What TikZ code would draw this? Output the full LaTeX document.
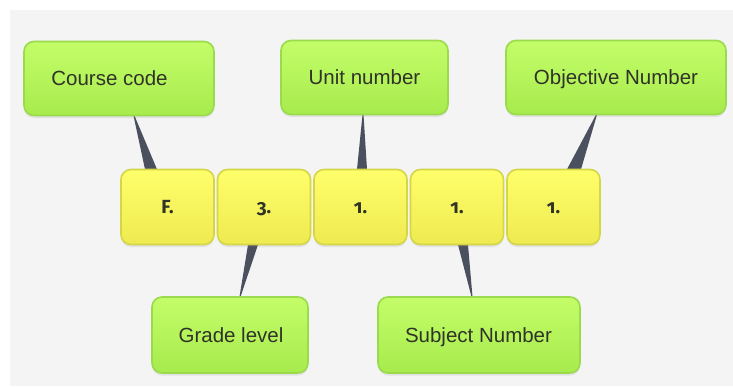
\documentclass[tikz,border=0pt]{standalone}
\usepackage{fontspec}
\setmainfont{Liberation Sans}
\newfontfamily\digitfont[Numbers=OldStyle]{Fira Sans}
\usetikzlibrary{calc,shadows}
\definecolor{bgpanel}{HTML}{F4F4F4}
\definecolor{greentop}{HTML}{C3FD69}
\definecolor{greenbot}{HTML}{A7EB4D}
\definecolor{greenedge}{HTML}{9BDA4C}
\definecolor{yellowtop}{HTML}{FFFF6B}
\definecolor{yellowbot}{HTML}{EEEA50}
\definecolor{yellowedge}{HTML}{D5D548}
\definecolor{wedgecol}{HTML}{4B505E}
\definecolor{labeltext}{HTML}{303328}
\tikzset{
  boxbase/.style={rounded corners=10pt, line width=1.6pt, inner sep=0pt,
    text=labeltext, align=center,
    drop shadow={opacity=0.15, shadow xshift=0pt, shadow yshift=-2.5pt}},
  labelbox/.style={boxbase, draw=greenedge, top color=greentop, bottom color=greenbot,
    minimum height=74pt},
  labelfont/.style={text=labeltext, inner sep=0pt, text height=14.5pt, text depth=4pt,
    font=\fontsize{20.5}{24}\selectfont},
  digitbox/.style={boxbase, draw=yellowedge, top color=yellowtop, bottom color=yellowbot,
    minimum width=93pt, minimum height=75pt, text height=13.5pt, text depth=0pt,
    font=\digitfont\bfseries\fontsize{19}{22}\selectfont},
  wedge/.style={fill=wedgecol}
}
\begin{document}
\begin{tikzpicture}[x=1pt,y=-1pt]
  % canvas and panel
  \useasboundingbox (0,0) rectangle (733,386);
  \fill[white] (0,0) rectangle (733,386);
  \fill[bgpanel] (10,10) rectangle (733,386);

  % box centres
  \path
    (119,78.5)   coordinate (pcc)
    (364.5,77.5) coordinate (pun)
    (616,77.5)   coordinate (pob)
    (167.5,207)  coordinate (pf)
    (264,207)    coordinate (pg)
    (360.5,207)  coordinate (pu)
    (457,207)    coordinate (ps)
    (553.5,207)  coordinate (po)
    (230,335)    coordinate (pgl)
    (479,335)    coordinate (psn);

  % invisible outlines giving the anchors for the wedges
  \begin{scope}[every node/.style={inner sep=0pt}]
    \node[minimum width=190pt, minimum height=74pt] (cc) at (pcc) {};
    \node[minimum width=167pt, minimum height=74pt] (un) at (pun) {};
    \node[minimum width=220pt, minimum height=74pt] (ob) at (pob) {};
    \node[minimum width=93pt, minimum height=75pt] (f1) at (pf) {};
    \node[minimum width=93pt, minimum height=75pt] (g3) at (pg) {};
    \node[minimum width=93pt, minimum height=75pt] (u1) at (pu) {};
    \node[minimum width=93pt, minimum height=75pt] (s1) at (ps) {};
    \node[minimum width=93pt, minimum height=75pt] (o1) at (po) {};
    \node[minimum width=156pt, minimum height=76pt] (gl) at (pgl) {};
    \node[minimum width=202pt, minimum height=76pt] (sn) at (psn) {};
  \end{scope}

  % tapered connectors
  \fill[wedge] ([xshift=14.5pt]cc.south) -- ([xshift=15.5pt]cc.south)
    -- ([xshift=-10.5pt]f1.north) -- ([xshift=-22.5pt]f1.north) -- cycle;
  \fill[wedge] ([xshift=-2pt]un.south) -- ([xshift=-1pt]un.south)
    -- ([xshift=6.5pt]u1.north) -- ([xshift=-3.5pt]u1.north) -- cycle;
  \fill[wedge] ([xshift=-20pt]ob.south) -- ([xshift=-19pt]ob.south)
    -- ([xshift=27.5pt]o1.north) -- ([xshift=13.5pt]o1.north) -- cycle;
  \fill[wedge] ([xshift=-16pt]g3.south) -- ([xshift=-6pt]g3.south)
    -- ([xshift=10.5pt]gl.north) -- ([xshift=9.5pt]gl.north) -- cycle;
  \fill[wedge] ([xshift=1pt]s1.south) -- ([xshift=11pt]s1.south)
    -- ([xshift=-6.5pt]sn.north) -- ([xshift=-7.5pt]sn.north) -- cycle;

  % label boxes
  \node[labelbox, minimum width=190pt] (ccbox) at (pcc) {};
  \node[labelbox, minimum width=167pt] (unbox) at (pun) {};
  \node[labelbox, minimum width=220pt] (obbox) at (pob) {};
  \node[labelbox, minimum width=156pt, minimum height=76pt] (glbox) at (pgl) {};
  \node[labelbox, minimum width=202pt, minimum height=76pt] (snbox) at (psn) {};

  % label texts
  \node[labelfont] (cctext) at ([xshift=-9.5pt,yshift=-1.5pt]ccbox.center) {Course code};
  \node[labelfont] (untext) at ([yshift=-2pt]unbox.center) {Unit number};
  \node[labelfont] (obtext) at ([yshift=-2pt]obbox.center) {Objective Number};
  \node[labelfont] (gltext) at ([xshift=1pt,yshift=-2.5pt]glbox.center) {Grade level};
  \node[labelfont] (sntext) at ([xshift=-0.5pt,yshift=-2.5pt]snbox.center) {Subject Number};

  % code segments
  \node[digitbox] (f1box) at (pf) {F.};
  \node[digitbox] (g3box) at (pg) {3.};
  \node[digitbox] (u1box) at (pu) {1.};
  \node[digitbox] (s1box) at (ps) {1.};
  \node[digitbox] (o1box) at (po) {1.};
\end{tikzpicture}
\end{document}
